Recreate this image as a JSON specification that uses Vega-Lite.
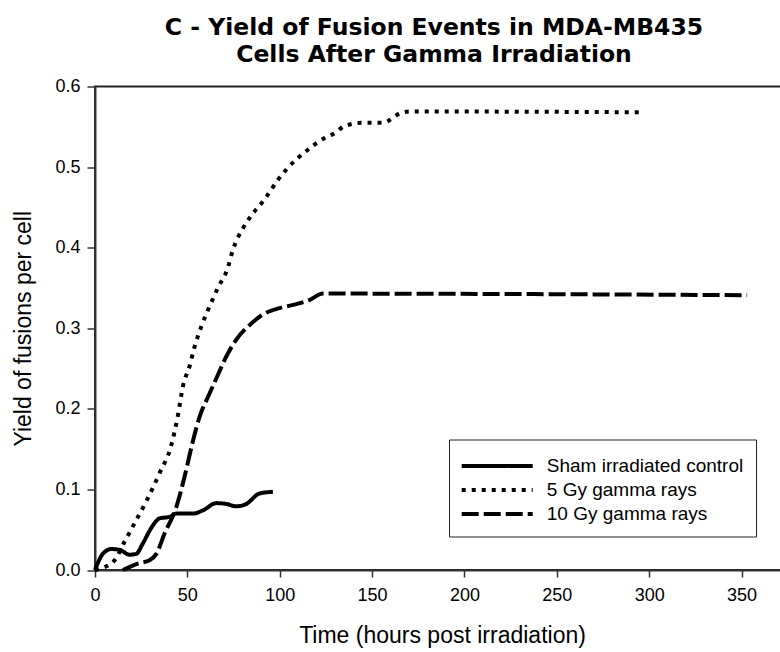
{
  "$schema": "https://vega.github.io/schema/vega-lite/v6.json",
  "width": 702,
  "height": 483.5,
  "autosize": "none",
  "padding": {"left": 95, "top": 86.5, "right": 0, "bottom": 82},
  "background": "white",
  "config": {
    "font": "Liberation Sans",
    "view": {"stroke": "#222", "strokeWidth": 2}
  },
  "title": {
    "text": ["C - Yield of Fusion Events in MDA-MB435", "Cells After Gamma Irradiation"],
    "font": "DejaVu Sans",
    "fontSize": 23.5,
    "fontWeight": "bold",
    "color": "#000",
    "anchor": "middle",
    "dx": -12,
    "lineHeight": 27,
    "offset": 11.5
  },
  "data": {
    "values": [
      {"series": "Sham irradiated control", "t": 0, "y": 0},
      {"series": "Sham irradiated control", "t": 4.2, "y": 0.02},
      {"series": "Sham irradiated control", "t": 8.8, "y": 0.026},
      {"series": "Sham irradiated control", "t": 13.3, "y": 0.025},
      {"series": "Sham irradiated control", "t": 18.7, "y": 0.019},
      {"series": "Sham irradiated control", "t": 22.3, "y": 0.02},
      {"series": "Sham irradiated control", "t": 25.9, "y": 0.033},
      {"series": "Sham irradiated control", "t": 30.4, "y": 0.052},
      {"series": "Sham irradiated control", "t": 34.9, "y": 0.064},
      {"series": "Sham irradiated control", "t": 40.4, "y": 0.066},
      {"series": "Sham irradiated control", "t": 44, "y": 0.07},
      {"series": "Sham irradiated control", "t": 53, "y": 0.07},
      {"series": "Sham irradiated control", "t": 58.4, "y": 0.074},
      {"series": "Sham irradiated control", "t": 65.7, "y": 0.083},
      {"series": "Sham irradiated control", "t": 71.1, "y": 0.082},
      {"series": "Sham irradiated control", "t": 76.5, "y": 0.079},
      {"series": "Sham irradiated control", "t": 81.9, "y": 0.082},
      {"series": "Sham irradiated control", "t": 89.1, "y": 0.095},
      {"series": "Sham irradiated control", "t": 96.3, "y": 0.097},
      {"series": "5 Gy gamma rays", "t": 0, "y": 0},
      {"series": "5 Gy gamma rays", "t": 3.4, "y": 0.002},
      {"series": "5 Gy gamma rays", "t": 10.6, "y": 0.012},
      {"series": "5 Gy gamma rays", "t": 16, "y": 0.035},
      {"series": "5 Gy gamma rays", "t": 21.4, "y": 0.058},
      {"series": "5 Gy gamma rays", "t": 27.7, "y": 0.085},
      {"series": "5 Gy gamma rays", "t": 34.9, "y": 0.12},
      {"series": "5 Gy gamma rays", "t": 41.3, "y": 0.155},
      {"series": "5 Gy gamma rays", "t": 44.9, "y": 0.192},
      {"series": "5 Gy gamma rays", "t": 47.6, "y": 0.228},
      {"series": "5 Gy gamma rays", "t": 51.2, "y": 0.253},
      {"series": "5 Gy gamma rays", "t": 53.9, "y": 0.277},
      {"series": "5 Gy gamma rays", "t": 57.5, "y": 0.302},
      {"series": "5 Gy gamma rays", "t": 62, "y": 0.327},
      {"series": "5 Gy gamma rays", "t": 66.5, "y": 0.35},
      {"series": "5 Gy gamma rays", "t": 71.9, "y": 0.375},
      {"series": "5 Gy gamma rays", "t": 74.6, "y": 0.397},
      {"series": "5 Gy gamma rays", "t": 80.1, "y": 0.424},
      {"series": "5 Gy gamma rays", "t": 83.7, "y": 0.437},
      {"series": "5 Gy gamma rays", "t": 91.8, "y": 0.46},
      {"series": "5 Gy gamma rays", "t": 99, "y": 0.484},
      {"series": "5 Gy gamma rays", "t": 103.6, "y": 0.497},
      {"series": "5 Gy gamma rays", "t": 114.4, "y": 0.52},
      {"series": "5 Gy gamma rays", "t": 124.3, "y": 0.536},
      {"series": "5 Gy gamma rays", "t": 129.7, "y": 0.542},
      {"series": "5 Gy gamma rays", "t": 135.2, "y": 0.551},
      {"series": "5 Gy gamma rays", "t": 144.9, "y": 0.555},
      {"series": "5 Gy gamma rays", "t": 155.7, "y": 0.555},
      {"series": "5 Gy gamma rays", "t": 166.6, "y": 0.568},
      {"series": "5 Gy gamma rays", "t": 172, "y": 0.569},
      {"series": "5 Gy gamma rays", "t": 295, "y": 0.568},
      {"series": "10 Gy gamma rays", "t": 15.1, "y": 0},
      {"series": "10 Gy gamma rays", "t": 23.2, "y": 0.008},
      {"series": "10 Gy gamma rays", "t": 29.5, "y": 0.012},
      {"series": "10 Gy gamma rays", "t": 33.2, "y": 0.02},
      {"series": "10 Gy gamma rays", "t": 37.6, "y": 0.045},
      {"series": "10 Gy gamma rays", "t": 44, "y": 0.078},
      {"series": "10 Gy gamma rays", "t": 48.5, "y": 0.116},
      {"series": "10 Gy gamma rays", "t": 53, "y": 0.16},
      {"series": "10 Gy gamma rays", "t": 56.6, "y": 0.19},
      {"series": "10 Gy gamma rays", "t": 62, "y": 0.219},
      {"series": "10 Gy gamma rays", "t": 66.5, "y": 0.242},
      {"series": "10 Gy gamma rays", "t": 71.1, "y": 0.265},
      {"series": "10 Gy gamma rays", "t": 76.5, "y": 0.286},
      {"series": "10 Gy gamma rays", "t": 83.7, "y": 0.304},
      {"series": "10 Gy gamma rays", "t": 90.9, "y": 0.317},
      {"series": "10 Gy gamma rays", "t": 99.9, "y": 0.325},
      {"series": "10 Gy gamma rays", "t": 109, "y": 0.33},
      {"series": "10 Gy gamma rays", "t": 116, "y": 0.335},
      {"series": "10 Gy gamma rays", "t": 123.4, "y": 0.343},
      {"series": "10 Gy gamma rays", "t": 353, "y": 0.341}
    ]
  },
  "mark": {"type": "line", "interpolate": "monotone", "strokeWidth": 4, "color": "#000"},
  "encoding": {
    "x": {
      "field": "t",
      "type": "quantitative",
      "scale": {"domain": [0, 380], "nice": false, "zero": false},
      "axis": {
        "title": "Time (hours post irradiation)",
        "values": [0, 50, 100, 150, 200, 250, 300, 350],
        "grid": false,
        "domainColor": "#333",
        "domainWidth": 2,
        "tickColor": "#333",
        "tickWidth": 1.5,
        "tickSize": 7,
        "labelPadding": 9,
        "labelFontSize": 18,
        "labelColor": "#000",
        "labelFlush": false,
        "titleFontSize": 23,
        "titleFontWeight": "normal",
        "titleColor": "#000",
        "titlePadding": 20,
        "titleX": 347
      }
    },
    "y": {
      "field": "y",
      "type": "quantitative",
      "scale": {"domain": [0, 0.6], "nice": false},
      "axis": {
        "title": "Yield of fusions per cell",
        "values": [0, 0.1, 0.2, 0.3, 0.4, 0.5, 0.6],
        "format": ".1f",
        "grid": false,
        "domainColor": "#333",
        "domainWidth": 2,
        "tickColor": "#333",
        "tickWidth": 1.5,
        "tickSize": 8,
        "labelPadding": 7,
        "labelFontSize": 18,
        "labelColor": "#000",
        "labelFlush": false,
        "titleFontSize": 23,
        "titleFontWeight": "normal",
        "titleColor": "#000",
        "titlePadding": 19
      }
    },
    "strokeDash": {
      "field": "series",
      "type": "nominal",
      "scale": {
        "domain": ["Sham irradiated control", "5 Gy gamma rays", "10 Gy gamma rays"],
        "range": [[1, 0], [4, 6], [17, 5]]
      },
      "legend": {
        "title": null,
        "orient": "none",
        "legendX": 354,
        "legendY": 353,
        "strokeColor": "#222",
        "fillColor": "white",
        "padding": 12.5,
        "symbolType": "M-3,0H3",
        "symbolSize": 560,
        "symbolOffset": 21.7,
        "symbolStrokeWidth": 4,
        "symbolStrokeColor": "#000",
        "labelFontSize": 19,
        "labelColor": "#000",
        "labelOffset": 35.6,
        "labelLimit": 400,
        "rowPadding": 0
      }
    },
    "detail": {"field": "series"}
  }
}
